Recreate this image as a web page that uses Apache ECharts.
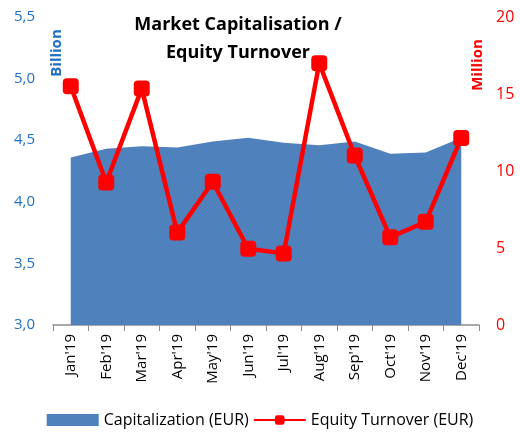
<!DOCTYPE html>
<html>
<head>
<meta charset="utf-8">
<script src="https://cdn.jsdelivr.net/npm/echarts@6/dist/echarts.min.js"></script>
<style>
  html, body { margin: 0; padding: 0; background: #fff; }
  #main { width: 520px; height: 433px; }
</style>
</head>
<body>
<div id="main"></div>
<script>
var months = ["Jan'19", "Feb'19", "Mar'19", "Apr'19", "May'19", "Jun'19",
  "Jul'19", "Aug'19", "Sep'19", "Oct'19", "Nov'19", "Dec'19"];
// billion EUR
var capitalization = [4.36, 4.43, 4.45, 4.44, 4.49, 4.52, 4.48, 4.46, 4.49, 4.39, 4.40, 4.52];
// million EUR
var turnover = [15.5, 9.25, 15.35, 6.0, 9.3, 4.95, 4.65, 17.0, 11.0, 5.7, 6.7, 12.15];

var font = "'Open Sans', 'Liberation Sans', sans-serif";
var myChart = echarts.init(document.getElementById("main"));

myChart.setOption({
  animation: false,
  textStyle: { fontFamily: font },
  title: {
    text: "Market Capitalisation /\nEquity Turnover",
    left: 233,
    top: 6,
    textAlign: "center",
    textStyle: { fontSize: 18, fontWeight: "bold", color: "#000", lineHeight: 28, fontFamily: font }
  },
  graphic: [
    {
      type: "text", x: 57, y: 53, rotation: Math.PI / 2,
      style: { text: "Billion", fill: "#1f6fc5", font: "bold 15px " + font, align: "center", verticalAlign: "middle" }
    },
    {
      type: "text", x: 478, y: 65, rotation: Math.PI / 2,
      style: { text: "Million", fill: "#ff0000", font: "bold 15px " + font, align: "center", verticalAlign: "middle" }
    }
  ],
  legend: {
    bottom: 0,
    left: "center",
    itemGap: 4,
    itemWidth: 52,
    itemHeight: 12,
    textStyle: { fontSize: 16, color: "#000", fontFamily: font },
    data: [
      { name: "Capitalization (EUR)", icon: "rect", itemStyle: { color: "#4f81bd" } },
      { name: "Equity Turnover (EUR)" }
    ]
  },
  grid: { left: 53, right: 41, top: 17, bottom: 108 },
  xAxis: {
    type: "category",
    data: months,
    boundaryGap: true,
    axisLine: { lineStyle: { color: "#8c8c8c", width: 1.5 } },
    axisTick: { show: true, length: 6, lineStyle: { color: "#8c8c8c" } },
    axisLabel: { rotate: 90, color: "#000", fontSize: 15, margin: 9, interval: 0, fontFamily: font }
  },
  yAxis: [
    {
      type: "value",
      min: 3.0, max: 5.5, interval: 0.5,
      splitLine: { show: false },
      axisLine: { show: false },
      axisTick: { show: false },
      axisLabel: {
        color: "#1f6fc5", fontSize: 15, margin: 18, fontFamily: font,
        formatter: function (v) { return v.toFixed(1).replace(".", ","); }
      }
    },
    {
      type: "value",
      min: 0, max: 20, interval: 5,
      splitLine: { show: false },
      axisLine: { show: false },
      axisTick: { show: false },
      axisLabel: { color: "#ff0000", fontSize: 16, margin: 17, fontFamily: font }
    }
  ],
  series: [
    {
      name: "Capitalization (EUR)",
      type: "line",
      yAxisIndex: 0,
      data: capitalization,
      symbol: "none",
      lineStyle: { width: 0, color: "#4f81bd" },
      itemStyle: { color: "#4f81bd" },
      areaStyle: { color: "#4f81bd", opacity: 1 },
      z: 1
    },
    {
      name: "Equity Turnover (EUR)",
      type: "line",
      yAxisIndex: 1,
      data: turnover,
      symbol: "roundRect",
      symbolSize: 16,
      lineStyle: { width: 4.5, color: "#ff0000" },
      itemStyle: { color: "#ff0000" },
      z: 3
    }
  ]
});
window.onresize = function () { myChart.resize(); };
</script>
</body>
</html>
